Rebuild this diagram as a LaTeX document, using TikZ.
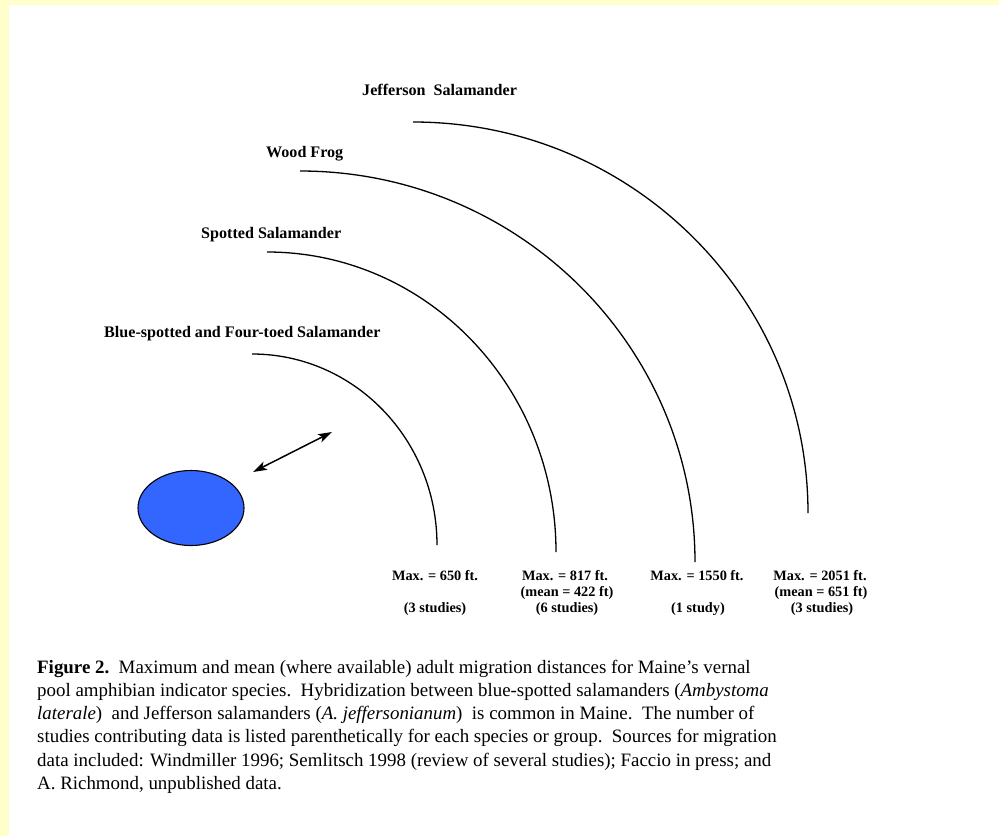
\documentclass[tikz,border=0pt]{standalone}
\usepackage{fontspec}
\setmainfont{Liberation Serif}
\usetikzlibrary{shapes.geometric,arrows.meta}
\definecolor{bgyellow}{HTML}{FFFFCC}
\definecolor{pondblue}{HTML}{3366FF}
\tikzset{
  arcline/.style={line width=1.3pt, black},
  species/.style={anchor=base west, inner sep=0pt, font=\fontsize{16.1}{19}\selectfont\bfseries},
  dist/.style={anchor=base, inner sep=0pt, font=\fontsize{14.3}{17}\selectfont\bfseries},
  capline/.style={anchor=base west, inner sep=0pt, font=\fontsize{18.9}{23}\selectfont},
  migr/.style={line width=1.5pt, {Stealth[length=14pt,width=9pt,inset=3.5pt]}-{Stealth[length=14pt,width=9pt,inset=3.5pt]}}
}
\begin{document}
\begin{tikzpicture}[x=1pt,y=-1pt]
\useasboundingbox (0,0) rectangle (999,836);
\fill[bgyellow] (0,0) rectangle (999,836);
\fill[white] (9,5) rectangle (999,836);

% arcs
\draw[arcline] (252,354) arc[start angle=90, end angle=0, x radius=185pt, y radius=191pt];
\draw[arcline] (267,252) arc[start angle=90, end angle=0, x radius=289pt, y radius=300pt];
\draw[arcline] (300,171) arc[start angle=90, end angle=0, x radius=395pt, y radius=391pt];
\draw[arcline] (413,122) arc[start angle=90, end angle=0, x radius=395pt, y radius=391pt];

% species labels
\node[species] (jeff) at (362,95) {Jefferson\ \ Salamander};
\node[species] (wood) at (266,157) {Wood Frog};
\node[species] (spot) at (201,238) {Spotted Salamander};
\node[species] (blue) at (104,337) {Blue-spotted and Four-toed Salamander};

% pond and arrow
\node[ellipse, draw, line width=1.1pt, fill=pondblue, minimum width=106pt, minimum height=75pt, inner sep=0pt] (pond) at (191,508) {};
\coordinate (a1) at (253,472);
\coordinate (a2) at (332,432);
\draw[migr] (a1) -- (a2);

% distances
\node[dist] (m1) at (435,580) {Max. = 650 ft.};
\node[dist] (s1) at (435,612) {(3 studies)};
\node[dist] (m2) at (565,580) {Max. = 817 ft.};
\node[dist] (n2) at (567,596) {(mean = 422 ft)};
\node[dist] (s2) at (567,612) {(6 studies)};
\node[dist] (m3) at (697,580) {Max. = 1550 ft.};
\node[dist] (s3) at (698,612) {(1 study)};
\node[dist] (m4) at (820,580) {Max. = 2051 ft.};
\node[dist] (n4) at (821,596) {(mean = 651 ft)};
\node[dist] (s4) at (822,612) {(3 studies)};

% caption
\node[capline] (c1) at (37,673) {\textbf{Figure 2.}\ \ Maximum and mean (where available) adult migration distances for Maine’s vernal};
\node[capline] (c2) at (37,696.3) {pool amphibian indicator species.\ \ Hybridization between blue-spotted salamanders (\textit{Ambystoma}};
\node[capline] (c3) at (37,719.6) {\textit{laterale})\ \ and Jefferson salamanders (\textit{A. jeffersonianum})\ \ is common in Maine.\ \ The number of};
\node[capline] (c4) at (37,742.9) {studies contributing data is listed parenthetically for each species or group.\ \ Sources for migration};
\node[capline] (c5) at (37,766.2) {data included: Windmiller 1996; Semlitsch 1998 (review of several studies); Faccio in press; and};
\node[capline] (c6) at (37,789.5) {A. Richmond, unpublished data.};
\end{tikzpicture}
\end{document}
